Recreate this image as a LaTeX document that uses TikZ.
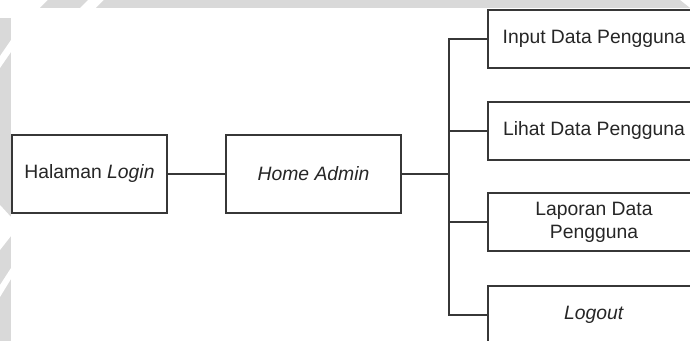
\documentclass[tikz,border=0pt]{standalone}
\usepackage{fontspec}
\setmainfont{Liberation Sans}
\definecolor{wmgrey}{RGB}{217,217,217}
\definecolor{linegrey}{RGB}{55,55,55}
\tikzset{
    menubox/.style={draw=linegrey, line width=1.3pt, fill=white, inner sep=0pt,
        text=black!85, align=center, font=\fontsize{14.5}{17.4}\selectfont},
    sidebox/.style={menubox, minimum width=159pt, minimum height=43.5pt},
    link/.style={draw=linegrey, line width=1.3pt}
}
\begin{document}
\begin{tikzpicture}[x=0.75pt,y=-0.75pt]
    \clip (0,0) rectangle (690,341);
    \fill[white] (0,0) rectangle (690,341);
    % latar (watermark)
    \fill[wmgrey] (96,8) -- (104,0) -- (680,0) -- (690,8) -- cycle;
    \fill[wmgrey] (40,8) -- (48,0) -- (88,0) -- (80,8) -- cycle;
    \fill[wmgrey] (0,18) rectangle (11,341);
    \fill[white] (11,40) -- (11,52) -- (0,68) -- (0,56) -- cycle;
    \fill[white] (0,205) -- (11,217) -- (11,236) -- (0,250) -- cycle;
    \fill[white] (11,268) -- (11,279) -- (0,297) -- (0,285) -- cycle;

    % menu
    \node[menubox, minimum width=116.25pt, minimum height=58.5pt] (login) at (89.5,174) {Halaman \textit{Login}};
    \node[menubox, minimum width=131.25pt, minimum height=58.5pt] (admin) at (313.5,174) {\textit{Home Admin}};
    \node[sidebox] (input) at (594,39) {Input Data Pengguna};
    \node[sidebox] (lihat) at (594,131) {Lihat Data Pengguna};
    \node[sidebox] (laporan) at (594,222) {Laporan Data\\Pengguna};
    \node[sidebox] (logout) at (594,315) {\textit{Logout}};
    \coordinate (hub) at (449,174);

    \draw[link] (login) -- (admin);
    \draw[link] (admin) -- (hub);
    \foreach \n in {input,lihat,laporan,logout}
        \draw[link] (hub) |- (\n);
\end{tikzpicture}
\end{document}
